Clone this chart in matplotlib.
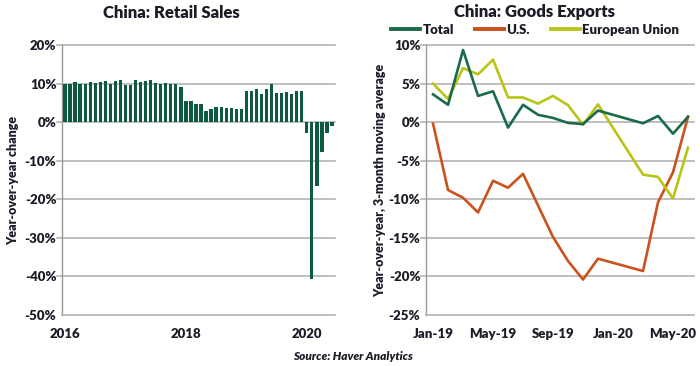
import matplotlib
matplotlib.use("Agg")
import matplotlib.pyplot as plt
import numpy as np

# ---- Data ----
retail_years = ["2016", "2018", "2020"]
retail_sales = [10.0, 10.0, 10.3, 10.0, 10.0, 10.4, 10.1, 10.4, 10.6, 9.9, 10.7, 10.9,
                9.5, 9.5, 10.8, 10.5, 10.6, 10.9, 10.2, 10.0, 10.2, 9.9, 9.9, 9.2,
                5.4, 5.4, 4.7, 4.6, 3.0, 3.4, 3.8, 4.0, 3.7, 3.7, 3.4, 3.3,
                8.1, 8.1, 8.6, 7.2, 8.5, 9.8, 7.6, 7.6, 7.8, 7.2, 8.0, 8.0,
                -2.8, -40.7, -16.6, -7.8, -2.9, -0.9]

export_months = ["Jan-19", "Feb-19", "Mar-19", "Apr-19", "May-19", "Jun-19", "Jul-19",
                 "Aug-19", "Sep-19", "Oct-19", "Nov-19", "Dec-19", "Mar-20", "Apr-20",
                 "May-20", "Jun-20"]
export_month_index = [0, 1, 2, 3, 4, 5, 6, 7, 8, 9, 10, 11, 14, 15, 16, 17]
exports_total = [3.6, 2.25, 9.35, 3.4, 4.0, -0.7, 2.25, 0.95, 0.55, -0.1, -0.25, 1.5,
                 -0.15, 0.8, -1.5, 0.7]
exports_us = [-0.2, -8.8, -9.8, -11.7, -7.6, -8.5, -6.7, -10.8, -14.9, -18.0, -20.4, -17.7,
              -19.3, -10.4, -6.5, 0.7]
exports_eu = [5.0, 3.0, 7.0, 6.2, 8.1, 3.2, 3.2, 2.4, 3.4, 2.2, -0.35, 2.3,
              -6.8, -7.1, -9.9, -3.3]
export_tick_labels = ["Jan-19", "May-19", "Sep-19", "Jan-20", "May-20"]
export_tick_pos = [0, 4, 8, 12, 16]

# ---- Style ----
plt.rcParams['font.family'] = ['Lato', 'DejaVu Sans']
W = 'heavy'
TXT = '#1c1c28'
GRID = '#b4b4b4'
GREEN_BAR = '#0e5a3e'
GREEN = '#1a6b48'
ORANGE = '#c9521e'
LIME = '#b9c516'

fig = plt.figure(figsize=(7.0, 3.66), dpi=100)

# ---- Left chart ----
ax1 = fig.add_axes([62/700, 1-315/366, (335-62)/700, (315-45)/366])
xr = np.arange(len(retail_sales))
ax1.bar(xr, retail_sales, width=0.66, color=GREEN_BAR, zorder=3)
ax1.set_xlim(-0.6, len(retail_sales) - 0.4)
ax1.set_ylim(-50, 20)
yt = np.arange(-50, 21, 10)
ax1.set_yticks(yt)
ax1.set_yticklabels([f"{v}%" for v in yt])
ax1.set_xticks([0, 24, 48])
ax1.set_xticklabels(retail_years)
for v in yt[1:]:
    ax1.axhline(v, color=GRID, lw=1.2, zorder=1, xmin=-0.02, clip_on=False)
ax1.set_ylabel("Year-over-year change", fontsize=9, fontweight=W, color=TXT, labelpad=4)
fig.text(171/700, 1-13/366, "China: Retail Sales", ha='center', va='center',
         fontsize=12, fontweight=W, color=TXT)

# ---- Right chart ----
ax2 = fig.add_axes([426/700, 1-315/366, (694-426)/700, (315-45)/366])
ax2.plot(export_month_index, exports_total, color=GREEN, lw=1.9, label="Total", zorder=4)
ax2.plot(export_month_index, exports_us, color=ORANGE, lw=1.9, label="U.S.", zorder=3)
ax2.plot(export_month_index, exports_eu, color=LIME, lw=1.9, label="European Union", zorder=3)
ax2.set_xlim(-0.47, 17.4)
ax2.set_ylim(-25, 10)
yt2 = np.arange(-25, 11, 5)
ax2.set_yticks(yt2)
ax2.set_yticklabels([f"{v}%" for v in yt2])
ax2.set_xticks(export_tick_pos)
ax2.set_xticklabels(export_tick_labels)
for v in yt2[1:]:
    ax2.axhline(v, color=GRID, lw=1.2, zorder=1, xmin=-0.02, clip_on=False)
ax2.set_ylabel("Year-over-year, 3-month moving average", fontsize=9, fontweight=W,
               color=TXT, labelpad=2)
fig.text(535/700, 1-12/366, "China: Goods Exports", ha='center', va='center',
         fontsize=12, fontweight=W, color=TXT)
leg = fig.legend(loc='center', bbox_to_anchor=(535/700, 1-30/366), ncol=3, frameon=False,
                 handlelength=2.2, handletextpad=0.15, columnspacing=1.6,
                 borderaxespad=0.0, borderpad=0.0,
                 prop={'weight': W, 'size': 9.5})
for t in leg.get_texts():
    t.set_color(TXT)
for h in leg.get_lines():
    h.set_linewidth(2.8)

for ax in (ax1, ax2):
    for s in ('top', 'right'):
        ax.spines[s].set_visible(False)
    ax.spines['left'].set_color('#9a9a9a')
    ax.spines['bottom'].set_color(GRID)
    ax.spines['left'].set_linewidth(1.0)
    ax.spines['bottom'].set_linewidth(1.2)
    ax.tick_params(axis='both', length=0, labelsize=9.5, colors=TXT, pad=4)
    ax.tick_params(axis='x', pad=9)
    for lab in ax.get_xticklabels() + ax.get_yticklabels():
        lab.set_fontweight(W)

fig.text(353/700, 1-357/366, "Source: Haver Analytics", ha='center', va='center',
         fontsize=8.5, fontweight=W, fontstyle='italic', color=TXT)

fig.savefig("out.png", dpi=100)
